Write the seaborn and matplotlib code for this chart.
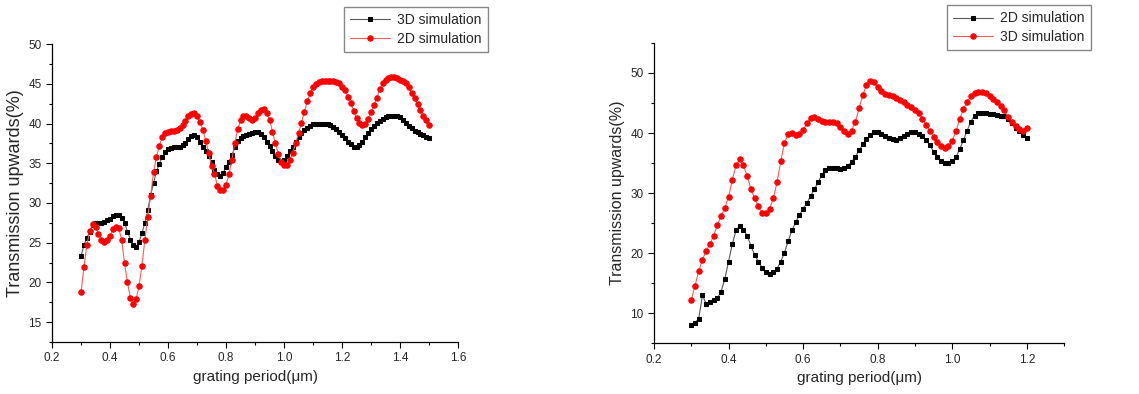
import numpy as np
import pandas as pd
import matplotlib
matplotlib.use("Agg")
import matplotlib.pyplot as plt
import seaborn as sns
from matplotlib.ticker import MultipleLocator

# left panel: grating period 0.30 .. 1.50 um, step 0.01
period_left = np.round(np.arange(0.30, 1.5001, 0.01), 2)
sim3d_left = [
    23.3, 24.7, 25.6, 26.4, 27.2, 27.5, 27.5, 27.5, 27.6, 27.8,
    28.0, 28.3, 28.5, 28.5, 28.1, 27.5, 26.4, 25.4, 24.7, 24.5,
    25.1, 26.2, 27.5, 29.1, 31.0, 32.5, 34.0, 34.9, 35.8, 36.4,
    36.8, 36.9, 37.0, 37.0, 37.1, 37.3, 37.6, 38.0, 38.4, 38.6,
    38.3, 37.7, 37.1, 36.5, 35.9, 35.1, 34.2, 33.7, 33.45, 33.8,
    34.5, 35.2, 36.0, 37.0, 37.8, 38.2, 38.4, 38.6, 38.7, 38.8,
    38.9, 38.9, 38.7, 38.3, 37.7, 37.2, 36.6, 35.9, 35.4, 35.2,
    35.4, 35.9, 36.5, 37.1, 37.7, 38.3, 38.8, 39.2, 39.5, 39.75,
    39.9, 40.0, 40.0, 40.0, 40.0, 39.9, 39.8, 39.6, 39.3, 39.0,
    38.6, 38.2, 37.7, 37.4, 37.1, 37.1, 37.3, 37.7, 38.3, 38.8,
    39.3, 39.7, 40.05, 40.3, 40.55, 40.8, 40.9, 41.0, 41.0, 41.0,
    40.8, 40.5, 40.1, 39.75, 39.4, 39.1, 38.9, 38.7, 38.5, 38.3,
    38.2,
]
sim2d_left = [
    18.8, 21.9, 24.7, 26.5, 27.4, 27.0, 26.1, 25.4, 25.1, 25.4,
    25.9, 26.7, 27.0, 26.8, 25.4, 22.4, 20.0, 18.1, 17.3, 17.9,
    19.6, 22.1, 25.4, 28.2, 30.9, 33.9, 35.8, 37.2, 38.3, 38.8,
    39.0, 39.1, 39.1, 39.2, 39.4, 39.8, 40.3, 40.9, 41.2, 41.3,
    40.9, 40.2, 39.2, 37.8, 36.3, 34.7, 33.7, 32.2, 31.6, 31.6,
    32.3, 33.6, 35.4, 37.5, 39.3, 40.4, 40.9, 40.9, 40.7, 40.5,
    40.7, 41.3, 41.7, 41.85, 41.3, 40.5, 39.0, 37.5, 36.2, 35.2,
    34.8, 34.8, 35.4, 36.35, 37.5, 38.8, 40.1, 41.5, 42.8, 43.8,
    44.6, 45.0, 45.2, 45.3, 45.3, 45.3, 45.3, 45.3, 45.2, 45.1,
    44.6, 44.2, 43.4, 42.6, 41.6, 40.75, 40.1, 39.8, 40.0, 40.55,
    41.4, 42.35, 43.2, 44.4, 45.1, 45.5, 45.7, 45.85, 45.85, 45.7,
    45.5, 45.3, 45.1, 44.6, 43.9, 43.2, 42.5, 41.7, 41.0, 40.4,
    39.8,
]

# right panel: grating period 0.30 .. 1.20 um, step 0.01
period_right = np.round(np.arange(0.30, 1.2001, 0.01), 2)
sim2d_right = [
    8.1, 8.4, 9.1, 13.0, 11.5, 11.9, 12.2, 12.5, 13.6, 15.7,
    18.6, 21.5, 23.8, 24.5, 23.9, 22.9, 21.2, 19.7, 18.6, 17.6,
    16.9, 16.6, 16.9, 17.4, 18.6, 20.1, 22.0, 23.8, 25.1, 26.3,
    27.4, 28.3, 29.5, 30.6, 31.8, 33.0, 33.8, 34.2, 34.2, 34.1,
    34.0, 34.1, 34.5, 35.2, 36.0, 37.1, 38.1, 39.0, 39.7, 40.1,
    40.1, 39.8, 39.5, 39.2, 39.0, 38.9, 39.2, 39.5, 39.8, 40.1,
    40.2, 39.9, 39.5, 38.8, 38.0, 36.9, 36.0, 35.4, 35.0, 35.0,
    35.3, 36.0, 37.3, 38.8, 40.4, 41.9, 42.9, 43.3, 43.4, 43.3,
    43.1, 43.1, 43.0, 42.9, 42.8, 42.3, 41.6, 40.9, 40.3, 39.7,
    39.2,
]
sim3d_right = [
    12.2, 14.6, 17.0, 18.9, 20.4, 21.5, 22.9, 24.7, 26.2, 27.5,
    29.4, 32.2, 34.6, 35.6, 34.6, 32.8, 30.7, 29.1, 27.8, 26.6,
    26.6, 27.4, 29.1, 31.8, 35.3, 38.4, 39.8, 40.0, 39.7, 39.9,
    40.5, 41.6, 42.5, 42.7, 42.4, 42.0, 41.8, 41.9, 41.9, 41.6,
    41.0, 40.3, 39.9, 40.4, 41.8, 44.1, 46.3, 48.0, 48.7, 48.5,
    47.7, 47.0, 46.5, 46.3, 46.2, 45.9, 45.5, 45.1, 44.7, 44.3,
    43.9, 43.4, 42.4, 41.4, 40.4, 39.4, 38.5, 37.8, 37.5, 37.9,
    38.7, 40.3, 42.3, 44.0, 45.2, 46.1, 46.6, 46.9, 46.9, 46.6,
    46.2, 45.7, 45.2, 44.5, 43.8, 42.7, 41.8, 41.1, 40.7, 40.4,
    40.8,
]

sns.set_style("ticks")
plt.rcParams["font.family"] = ["Liberation Sans", "DejaVu Sans"]
plt.rcParams["xtick.direction"] = "out"
plt.rcParams["ytick.direction"] = "out"

fig = plt.figure(figsize=(11.39, 3.94), dpi=100)
ax1 = fig.add_axes([0.0457, 0.132, 0.3565, 0.756])
ax2 = fig.add_axes([0.5742, 0.129, 0.36, 0.762])

black_style = dict(color="#5a5a5a", lw=0.8, marker="s", markersize=3.2,
                   markerfacecolor="black", markeredgecolor="black")
red_style = dict(color="#ff5a5a", lw=0.8, marker="o", markersize=3.9,
                 markerfacecolor="red", markeredgecolor="red")

df_left = pd.DataFrame({"period": period_left, "s3d": sim3d_left, "s2d": sim2d_left})
sns.lineplot(data=df_left, x="period", y="s3d", ax=ax1, label="3D simulation", **black_style)
sns.lineplot(data=df_left, x="period", y="s2d", ax=ax1, label="2D simulation", **red_style)

df_right = pd.DataFrame({"period": period_right, "s2d": sim2d_right, "s3d": sim3d_right})
sns.lineplot(data=df_right, x="period", y="s2d", ax=ax2, label="2D simulation", **black_style)
sns.lineplot(data=df_right, x="period", y="s3d", ax=ax2, label="3D simulation", **red_style)

ax1.set_xlim(0.2, 1.6)
ax1.set_ylim(12.5, 50)
ax1.xaxis.set_major_locator(MultipleLocator(0.2))
ax1.xaxis.set_minor_locator(MultipleLocator(0.1))
ax1.yaxis.set_major_locator(MultipleLocator(5))
ax1.yaxis.set_minor_locator(MultipleLocator(2.5))

ax2.set_xlim(0.2, 1.3)
ax2.set_ylim(5, 55)
ax2.xaxis.set_major_locator(MultipleLocator(0.2))
ax2.xaxis.set_minor_locator(MultipleLocator(0.1))
ax2.yaxis.set_major_locator(MultipleLocator(10))
ax2.yaxis.set_minor_locator(MultipleLocator(5))

legend_anchor = {ax1: (0.4285, 0.982), ax2: (0.958, 0.987)}
ylabel_size = {ax1: 13, ax2: 11.5}
for ax in (ax1, ax2):
    sns.despine(ax=ax)
    ax.set_xlabel("grating period(μm)", fontsize=11)
    ax.set_ylabel("Transmission upwards(%)", fontsize=ylabel_size[ax])
    ax.tick_params(axis="both", which="major", labelsize=8.5, length=4, width=0.8, color="black")
    ax.tick_params(axis="both", which="minor", length=2.5, width=0.8, color="black")
    for side in ("left", "bottom"):
        ax.spines[side].set_linewidth(0.9)
        ax.spines[side].set_color("black")
    ax.legend(loc="upper right", bbox_to_anchor=legend_anchor[ax],
              bbox_transform=fig.transFigure, fontsize=10, frameon=True,
              fancybox=False, edgecolor="#888888", framealpha=1,
              borderpad=0.45, handlelength=2.9, handletextpad=0.5,
              labelspacing=0.3, borderaxespad=0)

ax1.yaxis.set_label_coords(-0.068, 0.5)
ax2.yaxis.set_label_coords(-0.071, 0.5)

fig.savefig("out.png", dpi=100)
